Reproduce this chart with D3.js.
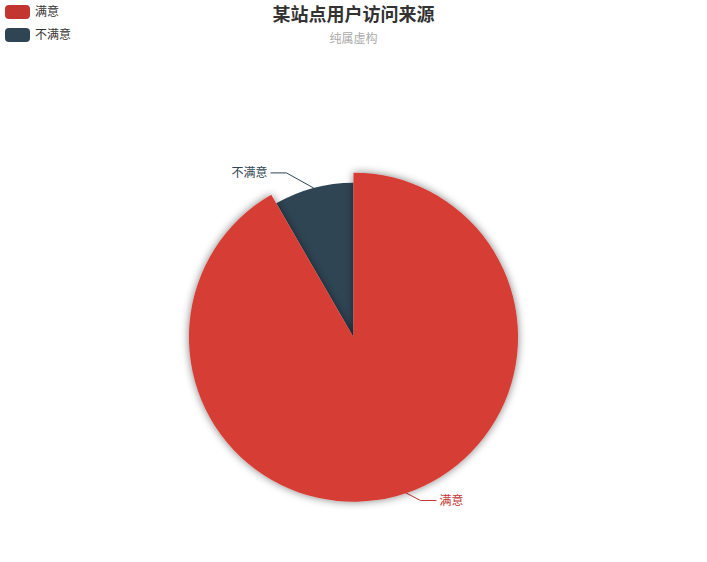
<!DOCTYPE html>
<html>
<head>
<meta charset="utf-8">
<script src="https://cdn.jsdelivr.net/npm/d3@7/dist/d3.min.js"></script>
<style>
  body { margin: 0; background: #fff; }
  svg { font-family: "Noto Sans CJK SC", "Noto Sans", sans-serif; }
</style>
</head>
<body>
<svg id="chart" width="707" height="562"></svg>
<script>
// data
var categories = ["满意", "不满意"];
var values = [1100, 100];
var colors = ["#c23531", "#2f4554"];
var hoverColors = ["#d63d36", "#2f4554"];
var titleText = "某站点用户访问来源";
var subText = "纯属虚构";

var width = 707, height = 562;
var cx = width * 0.5, cy = height * 0.6;
var radius = Math.min(width, height) / 2 * 0.55;
var hoverScale = 10;

var svg = d3.select("#chart");

// shadow for the highlighted slice
var defs = svg.append("defs");
var f = defs.append("filter").attr("id", "shadow")
    .attr("x", "-20%").attr("y", "-20%").attr("width", "140%").attr("height", "140%");
f.append("feGaussianBlur").attr("in", "SourceAlpha").attr("stdDeviation", 4).attr("result", "b");
f.append("feComponentTransfer").attr("in", "b").attr("result", "s")
    .append("feFuncA").attr("type", "linear").attr("slope", 0.5);
var m = f.append("feMerge");
m.append("feMergeNode").attr("in", "s");
m.append("feMergeNode").attr("in", "SourceGraphic");

// title
svg.append("text").attr("x", cx).attr("y", 21).attr("text-anchor", "middle")
    .attr("font-size", 18).attr("font-weight", "bold").attr("fill", "#333").text(titleText);
svg.append("text").attr("x", cx).attr("y", 43).attr("text-anchor", "middle")
    .attr("font-size", 12).attr("fill", "#aaa").text(subText);

// legend
var legend = svg.append("g").selectAll("g").data(categories).enter().append("g")
    .attr("transform", function (d, i) { return "translate(5," + (5 + i * 23) + ")"; });
legend.append("rect").attr("width", 25).attr("height", 14).attr("rx", 4).attr("ry", 4)
    .attr("fill", function (d, i) { return colors[i]; });
legend.append("text").attr("x", 30).attr("y", 7).attr("dy", "0.35em")
    .attr("font-size", 12).attr("fill", "#333").text(function (d) { return d; });

// pie
var pie = d3.pie().sort(null).value(function (d) { return d; });
var arcs = pie(values);
var g = svg.append("g").attr("transform", "translate(" + cx + "," + cy + ")");

// label lines first (underneath)
arcs.forEach(function (a, i) {
    var mid = (a.startAngle + a.endAngle) / 2;
    var dx = Math.sin(mid), dy = -Math.cos(mid);
    var sign = dx < 0 ? -1 : 1;
    var sx = dx * radius, sy = dy * radius;
    var ex = sx + sign * 27, ey = sy + (dy < 0 ? -15 : 14);
    var tx = ex + sign * 16;
    g.append("polyline")
        .attr("points", [[sx, sy], [ex, ey], [tx, ey]].map(function (p) { return p.join(","); }).join(" "))
        .attr("fill", "none").attr("stroke", colors[i]).attr("stroke-width", 1);
    g.append("text").attr("x", tx + sign * 3).attr("y", ey).attr("dy", "0.35em")
        .attr("text-anchor", sign < 0 ? "end" : "start")
        .attr("font-size", 12).attr("fill", colors[i]).text(categories[i]);
});

var arcNormal = d3.arc().innerRadius(0).outerRadius(radius);
var arcHover = d3.arc().innerRadius(0).outerRadius(radius + hoverScale);

// draw in reverse so the highlighted slice sits on top
arcs.slice().reverse().forEach(function (a) {
    var i = a.index;
    var hovered = i === 0;
    g.append("path")
        .attr("d", hovered ? arcHover(a) : arcNormal(a))
        .attr("fill", hovered ? hoverColors[i] : colors[i])
        .attr("filter", hovered ? "url(#shadow)" : null);
});
</script>
</body>
</html>
